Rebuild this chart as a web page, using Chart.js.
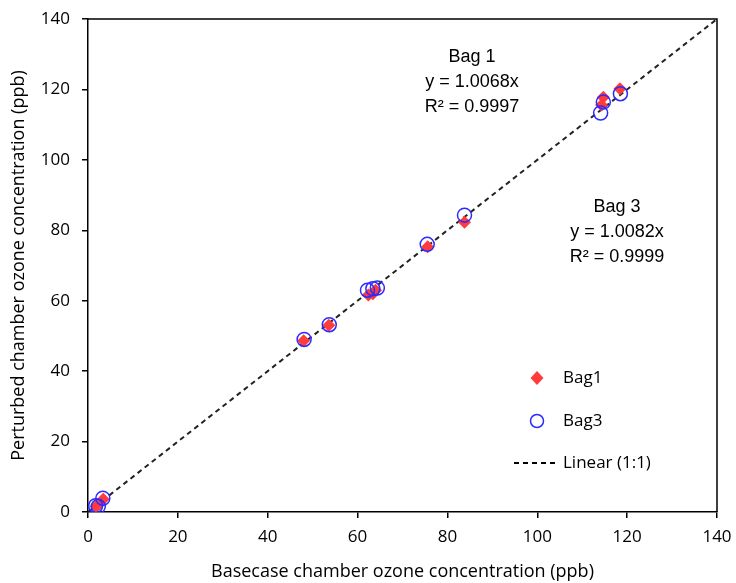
<!DOCTYPE html>
<html>
<head>
<meta charset="utf-8">
<script src="https://cdn.jsdelivr.net/npm/chart.js@4/dist/chart.umd.min.js"></script>
<style>
  html, body { margin: 0; padding: 0; background: #fff; }
  #wrap { width: 736px; height: 583px; }
</style>
</head>
<body>
<div id="wrap"><canvas id="ozoneChart" width="736" height="583"></canvas></div>
<script>
// Bag 1 (red diamonds)
const bag1X = [1.8, 2.4, 3.4, 48.0, 53.6, 62.4, 63.4, 64.0, 75.6, 83.8, 114.3, 114.7, 118.4];
const bag1Y = [1.6, 2.2, 3.6, 48.6, 53.0, 61.6, 62.0, 63.0, 75.3, 82.3, 115.6, 117.8, 120.2];
// Bag 3 (blue open circles)
const bag3X = [1.7, 2.3, 3.3, 48.1, 53.7, 62.2, 63.4, 64.4, 75.5, 83.8, 114.1, 114.7, 118.5];
const bag3Y = [1.8, 1.6, 3.9, 49.0, 53.2, 63.0, 63.4, 63.6, 76.0, 84.3, 113.3, 116.4, 118.8];
// 1:1 reference line
const lineX = [0, 140];
const lineY = [0, 140];

const axisTicks = [0, 20, 40, 60, 80, 100, 120, 140];

const toPoints = (xs, ys) => xs.map((x, i) => ({ x: x, y: ys[i] }));

const tickFont = { family: 'Open Sans', size: 17 };
const titleFont = { family: 'Open Sans', size: 18 };

/* frame, fit annotations and the legend inside the plot */
const extrasPlugin = {
    id: 'extras',
    afterDraw(chart) {
        const ctx = chart.ctx;
        const a = chart.chartArea;

        ctx.save();
        ctx.strokeStyle = '#000';
        ctx.lineWidth = 1.5;
        ctx.beginPath();
        ctx.moveTo(a.left, a.top);
        ctx.lineTo(a.right, a.top);
        ctx.lineTo(a.right, a.bottom);
        ctx.stroke();

        // regression annotations
        ctx.fillStyle = '#000';
        ctx.font = '18px "Liberation Sans"';
        ctx.textAlign = 'center';
        ctx.textBaseline = 'middle';
        const notes = [
            { cx: 472, cy: 57, lines: ['Bag 1', 'y = 1.0068x', 'R\u00b2 = 0.9997'] },
            { cx: 617, cy: 207, lines: ['Bag 3', 'y = 1.0082x', 'R\u00b2 = 0.9999'] }
        ];
        notes.forEach(n => {
            n.lines.forEach((t, i) => ctx.fillText(t, n.cx, n.cy + i * 25));
        });

        // legend
        ctx.font = '17px "Open Sans"';
        ctx.textAlign = 'left';
        const lx = 537, tx = 563;
        // Bag1 diamond
        ctx.fillStyle = '#ff3b3b';
        ctx.beginPath();
        ctx.moveTo(lx, 371); ctx.lineTo(lx + 6.5, 378); ctx.lineTo(lx, 385); ctx.lineTo(lx - 6.5, 378);
        ctx.closePath();
        ctx.fill();
        ctx.fillStyle = '#000';
        ctx.fillText('Bag1', tx, 378);
        // Bag3 circle
        ctx.strokeStyle = '#2b2bff';
        ctx.lineWidth = 1.5;
        ctx.beginPath();
        ctx.arc(lx, 421, 6.5, 0, Math.PI * 2);
        ctx.stroke();
        ctx.fillText('Bag3', tx, 421);
        // Linear
        ctx.strokeStyle = '#000';
        ctx.lineWidth = 2;
        ctx.setLineDash([5, 4]);
        ctx.beginPath();
        ctx.moveTo(514, 463); ctx.lineTo(556, 463);
        ctx.stroke();
        ctx.setLineDash([]);
        ctx.fillText('Linear (1:1)', tx, 463);
        ctx.restore();
    }
};

new Chart(document.getElementById('ozoneChart'), {
    type: 'scatter',
    data: {
        datasets: [
            {
                label: 'Linear (1:1)',
                type: 'line',
                data: toPoints(lineX, lineY),
                borderColor: '#222',
                borderWidth: 2,
                borderDash: [5, 4],
                pointRadius: 0,
                fill: false,
                order: 3
            },
            {
                label: 'Bag1',
                data: toPoints(bag1X, bag1Y),
                pointStyle: 'rectRot',
                pointRadius: 6.5,
                backgroundColor: '#ff3b3b',
                borderColor: '#ff3b3b',
                borderWidth: 0,
                order: 2
            },
            {
                label: 'Bag3',
                data: toPoints(bag3X, bag3Y),
                pointStyle: 'circle',
                pointRadius: 7,
                backgroundColor: 'rgba(0,0,0,0)',
                borderColor: '#2b2bff',
                borderWidth: 1.5,
                order: 1
            }
        ]
    },
    options: {
        responsive: false,
        animation: false,
        layout: { padding: { top: 19, right: 19, left: 0, bottom: 0 } },
        plugins: {
            legend: { display: false },
            tooltip: { enabled: false }
        },
        scales: {
            x: {
                type: 'linear',
                min: 0,
                max: 140,
                afterBuildTicks: s => { s.ticks = axisTicks.map(v => ({ value: v })); },
                afterFit: s => { s.height = 71; s.paddingLeft = 0; s.paddingRight = 0; },
                ticks: { color: '#000', font: tickFont, padding: 9 },
                grid: { display: true, drawOnChartArea: false, drawTicks: true, tickLength: 6, color: '#000', lineWidth: 1.5 },
                border: { display: true, color: '#000', width: 1.5 },
                title: { display: true, text: 'Basecase chamber ozone concentration (ppb)', color: '#000', font: titleFont, padding: { top: 4, bottom: 0 } }
            },
            y: {
                type: 'linear',
                min: 0,
                max: 140,
                afterBuildTicks: s => { s.ticks = axisTicks.map(v => ({ value: v })); },
                afterFit: s => { s.width = 88; s.paddingTop = 0; s.paddingBottom = 0; },
                ticks: { color: '#000', font: tickFont, padding: 12 },
                grid: { display: true, drawOnChartArea: false, drawTicks: true, tickLength: 6, color: '#000', lineWidth: 1.5 },
                border: { display: true, color: '#000', width: 1.5 },
                title: { display: true, text: 'Perturbed chamber ozone concentration (ppb)', color: '#000', font: titleFont, padding: { top: 8, bottom: 0 } }
            }
        }
    },
    plugins: [extrasPlugin]
});
</script>
</body>
</html>
